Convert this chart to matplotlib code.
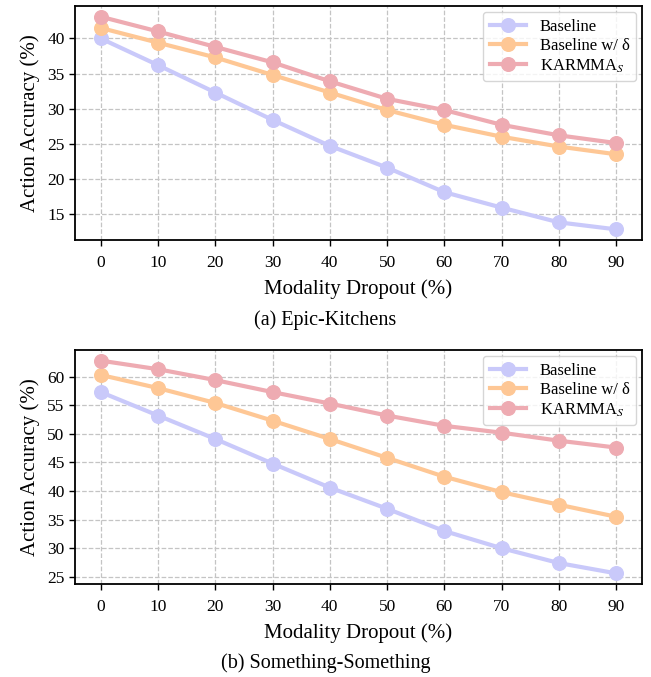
import numpy as np
import matplotlib
matplotlib.use("Agg")
import matplotlib.pyplot as plt

plt.rcParams["font.family"] = ["Liberation Serif", "DejaVu Serif"]
plt.rcParams["mathtext.fontset"] = "stix"

dropout = [0, 10, 20, 30, 40, 50, 60, 70, 80, 90]

# Epic-Kitchens
ek_baseline = [40.0, 36.2, 32.3, 28.4, 24.7, 21.6, 18.1, 15.9, 13.8, 12.8]
ek_delta = [41.5, 39.4, 37.3, 34.8, 32.3, 29.8, 27.7, 26.0, 24.6, 23.5]
ek_karmma = [43.1, 41.0, 38.8, 36.6, 33.9, 31.4, 29.8, 27.7, 26.2, 25.1]

# Something-Something
ss_baseline = [57.3, 53.2, 49.1, 44.8, 40.6, 36.9, 33.0, 30.0, 27.4, 25.6]
ss_delta = [60.3, 58.0, 55.4, 52.3, 49.1, 45.8, 42.5, 39.8, 37.6, 35.5]
ss_karmma = [62.8, 61.3, 59.4, 57.3, 55.3, 53.2, 51.4, 50.2, 48.8, 47.6]

labels = ["Baseline", "Baseline w/ δ", "KARMMA$_S$"]
colors = ["#c9c9fa", "#fec795", "#eeabb2"]

fig = plt.figure(figsize=(6.51, 6.77), dpi=100)
ax1 = fig.add_axes([0.1152, 0.6455, 0.8708, 0.3455])
ax2 = fig.add_axes([0.1152, 0.1374, 0.8708, 0.3456])

panels = [
    (ax1, [ek_baseline, ek_delta, ek_karmma], "(a) Epic-Kitchens", 0.512),
    (ax2, [ss_baseline, ss_delta, ss_karmma], "(b) Something-Something", 0.006),
]

for ax, series, caption, cap_y in panels:
    for vals, lab, col in zip(series, labels, colors):
        ax.plot(dropout, vals, marker="o", markersize=9.8, linewidth=3,
                color=col, label=lab)
    ax.set_xticks(dropout)
    ax.grid(True, linestyle="--", color="#c4c4c4", linewidth=0.9)
    ax.set_axisbelow(True)
    ax.tick_params(labelsize=12.5, width=1.0, length=4)
    ax.tick_params(axis="x", pad=6.5)
    for sp in ax.spines.values():
        sp.set_linewidth(1.3)
    ax.set_xlabel("Modality Dropout (%)", fontsize=15, labelpad=6)
    ax.set_ylabel("Action Accuracy (%)", fontsize=15, labelpad=5)
    ax.legend(loc="upper right", fontsize=12, handlelength=2.2,
              borderpad=0.4, labelspacing=0.2, framealpha=0.8,
              edgecolor="#cccccc", borderaxespad=0.35)
    fig.text(0.5, cap_y, caption, ha="center", va="bottom", fontsize=14.5)

ax1.set_yticks([15, 20, 25, 30, 35, 40])
ax2.set_yticks([25, 30, 35, 40, 45, 50, 55, 60])

fig.savefig("out.png", dpi=100)
